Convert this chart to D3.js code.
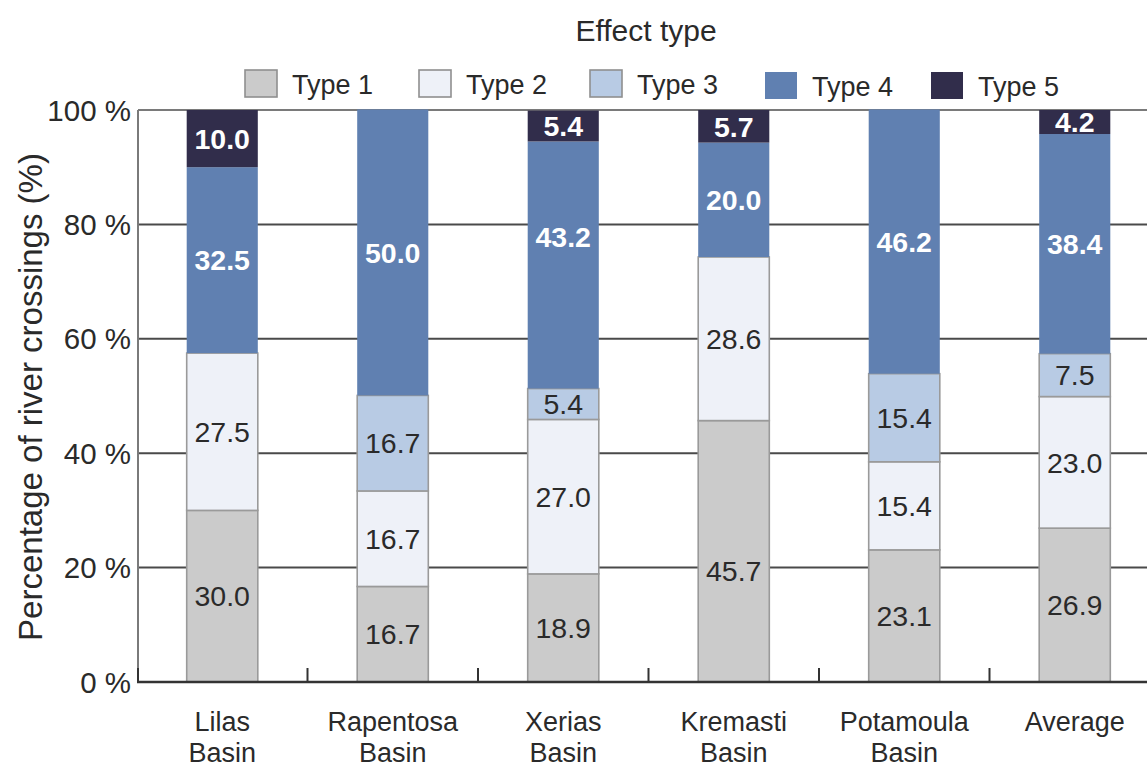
<!DOCTYPE html>
<html>
<head>
<meta charset="utf-8">
<script src="https://cdn.jsdelivr.net/npm/d3@7"></script>
<style>
  html, body { margin: 0; padding: 0; background: #fff; }
  svg { display: block; font-family: "Liberation Sans", Arial, sans-serif; }
</style>
</head>
<body>
<svg id="chart" width="1147" height="767"></svg>
<script>
// Basins (second line of each label is drawn under the first)
const categories = ["Lilas\nBasin", "Rapentosa\nBasin", "Xerias\nBasin", "Kremasti\nBasin", "Potamoula\nBasin", "Average"];
const seriesNames = ["Type 1", "Type 2", "Type 3", "Type 4", "Type 5"];

// Share of river crossings (%) per effect type, one value per basin
const type1 = [30.0, 16.7, 18.9, 45.7, 23.1, 26.9];
const type2 = [27.5, 16.7, 27.0, 28.6, 15.4, 23.0];
const type3 = [0,    16.7,  5.4,  0,   15.4,  7.5];
const type4 = [32.5, 50.0, 43.2, 20.0, 46.2, 38.4];
const type5 = [10.0,  0,    5.4,  5.7,  0,    4.2];

const yTicks = [0, 20, 40, 60, 80, 100];
const yTickLabels = ["0 %", "20 %", "40 %", "60 %", "80 %", "100 %"];

// Styling
const fills   = ["#cbcbcb", "#eef1f8", "#b8cbe4", "#6080b1", "#312d4b"];
const strokes = ["#9a9a9a", "#9a9a9a", "#9a9a9a", "none", "none"];
const labelColor = ["#2a2a2a", "#2a2a2a", "#2a2a2a", "#ffffff", "#ffffff"];
const labelWeight = ["normal", "normal", "normal", "bold", "bold"];
// small vertical adjustments for a couple of labels (px)
const labelNudge = { "2|3": -28, "3|0": 19 };

const svg = d3.select("#chart");
const margin = { left: 137, top: 110, bottom: 682 };
const plotRight = 1160;

const x = d3.scaleBand()
  .domain(d3.range(categories.length))
  .range([margin.left, plotRight])
  .paddingInner(0.583)
  .paddingOuter(0.2915);

const y = d3.scaleLinear().domain([0, 100]).range([margin.bottom, margin.top]);

const seriesArrays = [type1, type2, type3, type4, type5];
const table = categories.map((c, i) => {
  const row = { idx: i };
  seriesNames.forEach((s, k) => row[s] = seriesArrays[k][i]);
  return row;
});
const stacked = d3.stack().keys(seriesNames)(table);

// gridlines
svg.append("g").selectAll("line")
  .data(yTicks.filter(t => t > 0 && t < 100))
  .join("line")
  .attr("x1", margin.left).attr("x2", 1147)
  .attr("y1", d => y(d)).attr("y2", d => y(d))
  .attr("stroke", "#4a4a4a").attr("stroke-width", 2);

// frame: top and left
svg.append("line")
  .attr("x1", margin.left + 1).attr("x2", 1147)
  .attr("y1", y(100)).attr("y2", y(100))
  .attr("stroke", "#7a7a7a").attr("stroke-width", 2);
svg.append("line")
  .attr("x1", margin.left + 1).attr("x2", margin.left + 1)
  .attr("y1", y(100)).attr("y2", y(0))
  .attr("stroke", "#7a7a7a").attr("stroke-width", 2);

// bars
const layer = svg.append("g").selectAll("g")
  .data(stacked)
  .join("g")
  .attr("fill", (d, k) => fills[k])
  .attr("stroke", (d, k) => strokes[k])
  .attr("stroke-width", 1.6);

layer.selectAll("rect")
  .data(d => d.filter(s => s[1] - s[0] > 0))
  .join("rect")
  .attr("x", d => x(d.data.idx))
  .attr("width", x.bandwidth())
  .attr("y", d => y(d[1]))
  .attr("height", d => y(d[0]) - y(d[1]));

// value labels
stacked.forEach((ser, k) => {
  svg.append("g").selectAll("text")
    .data(ser.filter(s => s[1] - s[0] > 0))
    .join("text")
    .attr("x", d => x(d.data.idx) + x.bandwidth() / 2)
    .attr("y", d => (y(d[0]) + y(d[1])) / 2 + (labelNudge[d.data.idx + "|" + k] || 0))
    .attr("dy", "0.36em")
    .attr("text-anchor", "middle")
    .attr("font-size", 28.5)
    .attr("font-weight", labelWeight[k])
    .attr("fill", labelColor[k])
    .text(d => (seriesArrays[k][d.data.idx]).toFixed(1));
});

// x axis line with upward ticks between categories
svg.append("line")
  .attr("x1", margin.left).attr("x2", 1147)
  .attr("y1", y(0)).attr("y2", y(0))
  .attr("stroke", "#333").attr("stroke-width", 2.5);
const step = x.step();
svg.append("g").selectAll("line")
  .data(d3.range(categories.length))
  .join("line")
  .attr("x1", i => x(i) - (step - x.bandwidth()) / 2 + (i === 0 ? 1 : 0))
  .attr("x2", i => x(i) - (step - x.bandwidth()) / 2 + (i === 0 ? 1 : 0))
  .attr("y1", y(0)).attr("y2", y(0) - 14)
  .attr("stroke", "#333").attr("stroke-width", 2);

// category labels
const xl = svg.append("g").selectAll("text")
  .data(categories)
  .join("text")
  .attr("text-anchor", "middle")
  .attr("font-size", 27)
  .attr("fill", "#2a2a2a")
  .attr("transform", (d, i) => `translate(${x(i) + x.bandwidth() / 2},731)`);
xl.selectAll("tspan")
  .data(d => d.split("\n"))
  .join("tspan")
  .attr("x", 0)
  .attr("y", (d, j) => j * 31)
  .text(d => d);

// y tick labels
svg.append("g").selectAll("text")
  .data(yTicks)
  .join("text")
  .attr("x", 131)
  .attr("y", d => y(d))
  .attr("dy", "0.36em")
  .attr("text-anchor", "end")
  .attr("font-size", 29.5)
  .attr("fill", "#2a2a2a")
  .text((d, i) => yTickLabels[i]);

// y axis title
svg.append("text")
  .attr("transform", "translate(42,397) rotate(-90)")
  .attr("text-anchor", "middle")
  .attr("font-size", 33)
  .attr("fill", "#2a2a2a")
  .text("Percentage of river crossings (%)");

// legend
svg.append("text")
  .attr("x", 646).attr("y", 41)
  .attr("text-anchor", "middle")
  .attr("font-size", 30)
  .attr("fill", "#2a2a2a")
  .text("Effect type");

const legendX = [245, 419, 590, 765, 931];
const leg = svg.append("g").selectAll("g")
  .data(seriesNames)
  .join("g")
  .attr("transform", (d, k) => `translate(${legendX[k]},${k < 3 ? 70 : 72})`);
leg.append("rect")
  .attr("width", 32).attr("height", 27)
  .attr("fill", (d, k) => fills[k])
  .attr("stroke", (d, k) => k < 3 ? "#8f8f8f" : "none")
  .attr("stroke-width", 1.6);
leg.append("text")
  .attr("x", 47).attr("y", 24)
  .attr("font-size", 27)
  .attr("fill", "#2a2a2a")
  .text(d => d);
</script>
</body>
</html>
